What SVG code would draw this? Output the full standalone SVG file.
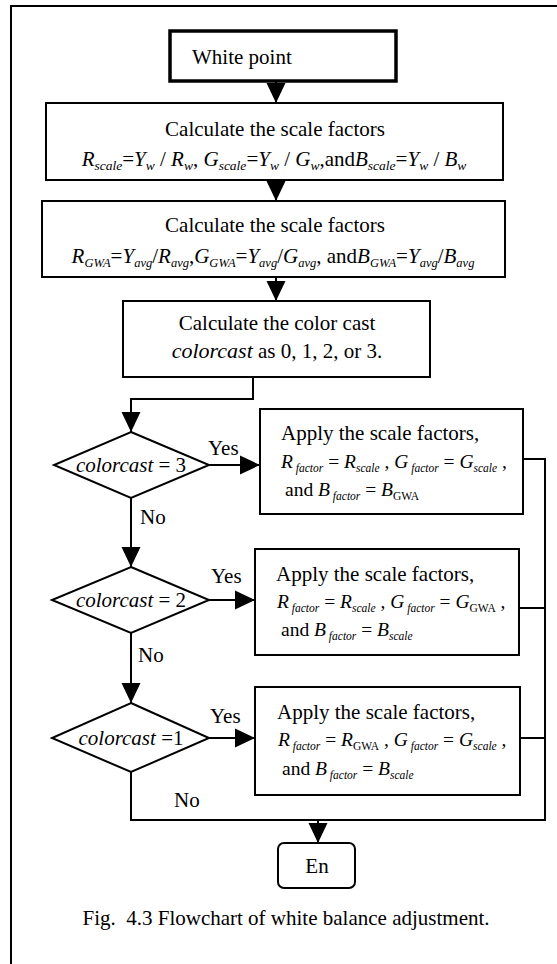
<svg xmlns="http://www.w3.org/2000/svg" width="557" height="964" viewBox="0 0 557 964">
<style>
.t{font-family:"Liberation Serif","Times New Roman",serif;font-size:21px;fill:#000}
.i{font-style:italic}
.s{font-size:11.5px;font-style:italic}
.r{font-size:11.5px}
.eq{font-size:21px}
.sq{font-size:13.5px;font-style:italic}
.sg{font-size:12.5px;font-style:italic}
.ap{font-size:19.5px}
.box{fill:#fff;stroke:#000;stroke-width:2}
.ln{fill:none;stroke:#000;stroke-width:2}
.ar{fill:none;stroke:#000;stroke-width:2;marker-end:url(#ah)}
</style>
<defs>
<marker id="ah" markerUnits="userSpaceOnUse" markerWidth="20" markerHeight="20" viewBox="0 0 20 20" refX="20" refY="10" orient="auto">
<path d="M0,0.5 L20,10 L0,19.5 Z" fill="#000"/>
</marker>
</defs>
<rect x="11" y="6" width="600" height="1000" fill="#fff" stroke="#000" stroke-width="2"/>
<g id="connectors">
<line class="ar" x1="276" y1="80" x2="276" y2="103"/>
<line class="ar" x1="276" y1="180" x2="276" y2="201"/>
<line class="ar" x1="276" y1="277" x2="276" y2="301"/>
<polyline class="ln" points="253,377 253,399 131,399"/>
<line class="ar" x1="131" y1="398" x2="131" y2="432"/>
<line class="ar" x1="209" y1="465" x2="260" y2="465"/>
<line class="ar" x1="131" y1="498" x2="131" y2="567"/>
<line class="ar" x1="209" y1="600" x2="255" y2="600"/>
<line class="ar" x1="131" y1="633" x2="131" y2="703"/>
<line class="ar" x1="209" y1="738" x2="255" y2="738"/>
<polyline class="ln" points="131,772 131,820 545,820"/>
<polyline class="ln" points="523,459 545,459 545,821"/>
<line class="ln" x1="519" y1="608" x2="545" y2="608"/>
<line class="ln" x1="520" y1="738" x2="545" y2="738"/>
<line class="ar" x1="318" y1="820" x2="318" y2="843"/>
</g>
<g id="white-point">
<rect x="170" y="31" width="226" height="50" fill="#fff" stroke="#000" stroke-width="3.5"/>
<text class="t" x="192" y="64">White point</text>
</g>
<g id="scale-factors">
<rect class="box" x="46" y="103" width="457" height="77"/>
<text class="t" x="275" y="136" text-anchor="middle" font-size="21.5">Calculate the scale factors</text>
<text class="t eq" x="274" y="166" text-anchor="middle"><tspan class="i">R</tspan><tspan class="sq" dy="4">scale</tspan><tspan dy="-4">=</tspan><tspan class="i">Y</tspan><tspan class="sq" dy="4">w</tspan><tspan dy="-4"> / </tspan><tspan class="i">R</tspan><tspan class="sq" dy="4">w</tspan><tspan dy="-4">, </tspan><tspan class="i">G</tspan><tspan class="sq" dy="4">scale</tspan><tspan dy="-4">=</tspan><tspan class="i">Y</tspan><tspan class="sq" dy="4">w</tspan><tspan dy="-4"> / </tspan><tspan class="i">G</tspan><tspan class="sq" dy="4">w</tspan><tspan dy="-4">,and</tspan><tspan class="i">B</tspan><tspan class="sq" dy="4">scale</tspan><tspan dy="-4">=</tspan><tspan class="i">Y</tspan><tspan class="sq" dy="4">w</tspan><tspan dy="-4"> / </tspan><tspan class="i">B</tspan><tspan class="sq" dy="4">w</tspan></text>
</g>
<g id="gwa-factors">
<rect class="box" x="42" y="201" width="463" height="76"/>
<text class="t" x="275" y="232" text-anchor="middle" font-size="21.5">Calculate the scale factors</text>
<text class="t" x="273" y="263" text-anchor="middle" font-size="19.5"><tspan class="i">R</tspan><tspan class="sg" dy="4">GWA</tspan><tspan dy="-4">=</tspan><tspan class="i">Y</tspan><tspan class="sg" dy="4">avg</tspan><tspan dy="-4">/</tspan><tspan class="i">R</tspan><tspan class="sg" dy="4">avg</tspan><tspan dy="-4">,</tspan><tspan class="i">G</tspan><tspan class="sg" dy="4">GWA</tspan><tspan dy="-4">=</tspan><tspan class="i">Y</tspan><tspan class="sg" dy="4">avg</tspan><tspan dy="-4">/</tspan><tspan class="i">G</tspan><tspan class="sg" dy="4">avg</tspan><tspan dy="-4">, and</tspan><tspan class="i">B</tspan><tspan class="sg" dy="4">GWA</tspan><tspan dy="-4">=</tspan><tspan class="i">Y</tspan><tspan class="sg" dy="4">avg</tspan><tspan dy="-4">/</tspan><tspan class="i">B</tspan><tspan class="sg" dy="4">avg</tspan></text>
</g>
<g id="color-cast">
<rect class="box" x="123" y="301" width="307" height="76"/>
<text class="t" x="277" y="330" text-anchor="middle">Calculate the color cast</text>
<text class="t" x="277" y="358" text-anchor="middle"><tspan class="i" font-size="22">colorcast</tspan> as 0, 1, 2, or 3.</text>
</g>
<g id="decision-3">
<polygon class="box" points="131,432 209,465 131,498 54,465"/>
<text class="t" x="131" y="472" text-anchor="middle" font-size="20"><tspan class="i">colorcast</tspan> = 3</text>
<text class="t" x="208" y="455">Yes</text>
<text class="t" x="140" y="524">No</text>
</g>
<g id="apply-3">
<rect class="box" x="260" y="409" width="263" height="105"/>
<text class="t" x="281" y="440">Apply the scale factors,</text>
<text class="t ap" x="281" y="468"><tspan class="i">R</tspan><tspan class="s" dy="4"> factor</tspan><tspan dy="-4"> = </tspan><tspan class="i">R</tspan><tspan class="s" dy="4">scale</tspan><tspan dy="-4"> , </tspan><tspan class="i">G</tspan><tspan class="s" dy="4"> factor</tspan><tspan dy="-4"> = </tspan><tspan class="i">G</tspan><tspan class="s" dy="4">scale</tspan><tspan dy="-4"> ,</tspan></text>
<text class="t ap" x="285" y="496">and <tspan class="i">B</tspan><tspan class="s" dy="4"> factor</tspan><tspan dy="-4"> = </tspan><tspan class="i">B</tspan><tspan class="r" dy="4">GWA</tspan></text>
</g>
<g id="decision-2">
<polygon class="box" points="131,567 209,600 131,633 52,600"/>
<text class="t" x="131" y="607" text-anchor="middle" font-size="20"><tspan class="i">colorcast</tspan> = 2</text>
<text class="t" x="211" y="583">Yes</text>
<text class="t" x="138" y="662">No</text>
</g>
<g id="apply-2">
<rect class="box" x="255" y="549" width="264" height="106"/>
<text class="t" x="276" y="581">Apply the scale factors,</text>
<text class="t ap" x="277" y="608"><tspan class="i">R</tspan><tspan class="s" dy="4"> factor</tspan><tspan dy="-4"> = </tspan><tspan class="i">R</tspan><tspan class="s" dy="4">scale</tspan><tspan dy="-4"> , </tspan><tspan class="i">G</tspan><tspan class="s" dy="4"> factor</tspan><tspan dy="-4"> = </tspan><tspan class="i">G</tspan><tspan class="r" dy="4">GWA</tspan><tspan dy="-4"> ,</tspan></text>
<text class="t ap" x="281" y="636">and <tspan class="i">B</tspan><tspan class="s" dy="4"> factor</tspan><tspan dy="-4"> = </tspan><tspan class="i">B</tspan><tspan class="s" dy="4">scale</tspan></text>
</g>
<g id="decision-1">
<polygon class="box" points="131,703 209,738 131,772 52,738"/>
<text class="t" x="131" y="745" text-anchor="middle" font-size="20"><tspan class="i">colorcast</tspan> =1</text>
<text class="t" x="210" y="723">Yes</text>
<text class="t" x="174" y="807">No</text>
</g>
<g id="apply-1">
<rect class="box" x="255" y="687" width="265" height="108"/>
<text class="t" x="277" y="719">Apply the scale factors,</text>
<text class="t ap" x="278" y="746"><tspan class="i">R</tspan><tspan class="s" dy="4"> factor</tspan><tspan dy="-4"> = </tspan><tspan class="i">R</tspan><tspan class="r" dy="4">GWA</tspan><tspan dy="-4"> , </tspan><tspan class="i">G</tspan><tspan class="s" dy="4"> factor</tspan><tspan dy="-4"> = </tspan><tspan class="i">G</tspan><tspan class="s" dy="4">scale</tspan><tspan dy="-4"> ,</tspan></text>
<text class="t ap" x="282" y="775">and <tspan class="i">B</tspan><tspan class="s" dy="4"> factor</tspan><tspan dy="-4"> = </tspan><tspan class="i">B</tspan><tspan class="s" dy="4">scale</tspan></text>
</g>
<g id="end">
<rect class="box" x="278" y="843" width="77" height="45" rx="6"/>
<text class="t" x="317" y="873" text-anchor="middle">En</text>
</g>
<text class="t" x="286" y="925" text-anchor="middle">Fig.&#160; 4.3 Flowchart of white balance adjustment.</text>
</svg>
